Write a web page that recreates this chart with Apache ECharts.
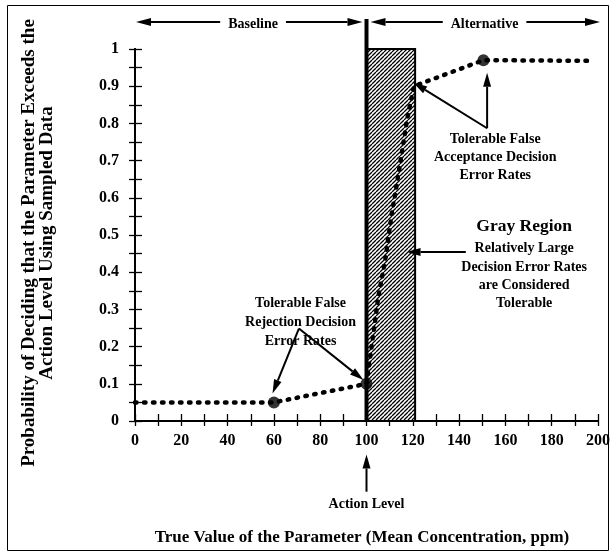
<!DOCTYPE html>
<html><head><meta charset="utf-8">
<script src="https://cdn.jsdelivr.net/npm/echarts@6/dist/echarts.min.js"></script>
<style>html,body{margin:0;padding:0;background:#fff}#c{width:613px;height:554px}</style>
</head><body><div id="c"></div>
<script>
// ---- data ----
const curveX = [0, 60, 100, 102, 105, 108, 111, 114.5, 117.5, 120.5, 150.5, 198];
const curveY = [0.05, 0.05, 0.1, 0.19, 0.33, 0.43, 0.56, 0.69, 0.81, 0.9, 0.97, 0.968];
const keyX = [60, 100, 150.5];
const keyY = [0.05, 0.1, 0.97];
const grayRegion = [100, 121];
const actionLevel = 100;
const zoneNames = ['Baseline', 'Alternative'];
const zoneStart = [0, 100];
const zoneEnd = [100, 200];
const zoneLabelX = [51, 151];
const arrowFromX = [70.8, 70.8, 152.1, 152.1, 142.9, 100];
const arrowFromY = [0.2485, 0.2485, 0.787, 0.787, 0.454, -0.19];
const arrowToX = [59.4, 98.7, 152.1, 120.2, 117.3, 100];
const arrowToY = [0.074, 0.110, 0.936, 0.91, 0.454, -0.09];
const noteText = ['Tolerable False\nRejection Decision\nError Rates',
  'Tolerable False\nAcceptance Decision\nError Rates',
  'Gray Region',
  'Relatively Large\nDecision Error Rates\nare Considered\nTolerable',
  'Action Level'];
const noteX = [71.5, 155.6, 168.1, 168.1, 100];
const noteY = [0.266, 0.7086, 0.524, 0.389, -0.225];
const xTitle = 'True Value of the Parameter (Mean Concentration, ppm)';
const yTitle = 'Probability of Deciding that the Parameter Exceeds the\nAction Level Using Sampled Data';

// ---- styles ----
const FAM = '"Liberation Serif", "Times New Roman", serif';
const noteFont = [14, 14, 17.5, 14, 14];
const noteLH = [19, 18, 20, 18.3, 16];

function hatch() {
  const s = 4, c = document.createElement('canvas');
  c.width = s; c.height = s;
  const g = c.getContext('2d');
  g.fillStyle = '#fff'; g.fillRect(0, 0, s, s);
  g.strokeStyle = '#000'; g.lineWidth = 1.3;
  g.beginPath();
  for (const o of [-s, 0, s]) { g.moveTo(o, s); g.lineTo(o + s, 0); }
  g.stroke();
  return c;
}
const measureCtx = document.createElement('canvas').getContext('2d');
function textWidth(t, font) { measureCtx.font = font; return measureCtx.measureText(t).width; }

function arrowHead(tx, ty, fx, fy, len, half) {
  const dx = tx - fx, dy = ty - fy, d = Math.hypot(dx, dy) || 1;
  const ux = dx / d, uy = dy / d;
  const bx = tx - ux * len, by = ty - uy * len;
  return { base: [bx, by], points: [[tx, ty], [bx - uy * half, by + ux * half], [bx + uy * half, by - ux * half]] };
}

const chart = echarts.init(document.getElementById('c'), null, { renderer: 'canvas' });
const axisLineStyle = { color: '#000', width: 2 };
const tickStyle = { color: '#000', width: 1.3 };
const labelStyle = { color: '#000', fontFamily: FAM, fontWeight: 'bold', fontSize: 16 };

const option = {
  animation: false,
  backgroundColor: '#fff',
  grid: { left: 135, right: 12, top: 49, bottom: 133 },
  xAxis: [
    { type: 'value', min: 0, max: 200, interval: 20, position: 'bottom',
      axisLine: { lineStyle: axisLineStyle }, axisTick: { length: 5, lineStyle: tickStyle },
      minorTick: { show: true, splitNumber: 2, length: 5, lineStyle: tickStyle },
      axisLabel: Object.assign({ margin: 12 }, labelStyle), splitLine: { show: false } },
    { type: 'value', min: 0, max: 200, interval: 20, position: 'top',
      axisLine: { lineStyle: axisLineStyle }, axisTick: { length: 7, lineStyle: tickStyle },
      minorTick: { show: true, splitNumber: 2, length: 7, lineStyle: tickStyle },
      axisLabel: { show: false }, splitLine: { show: false } }
  ],
  yAxis: [
    { type: 'value', min: 0, max: 1, interval: 0.1, position: 'left',
      axisLine: { lineStyle: axisLineStyle }, axisTick: { length: 6, lineStyle: tickStyle },
      minorTick: { show: true, splitNumber: 2, length: 6, lineStyle: tickStyle },
      axisLabel: Object.assign({ margin: 16 }, labelStyle), splitLine: { show: false } },
    { type: 'value', min: 0, max: 1, interval: 0.1, position: 'right',
      axisLine: { lineStyle: axisLineStyle }, axisTick: { length: 7, lineStyle: tickStyle },
      minorTick: { show: true, splitNumber: 2, length: 7, lineStyle: tickStyle },
      axisLabel: { show: false }, splitLine: { show: false } }
  ],
  graphic: [
    { type: 'rect', shape: { x: 7.5, y: 5.5, width: 601, height: 545 }, style: { fill: null, stroke: '#000', lineWidth: 1 }, silent: true },
    { type: 'text', x: 38, y: 243, rotation: Math.PI / 2,
      style: { text: yTitle, font: 'bold 19px ' + FAM, fill: '#000', align: 'center', verticalAlign: 'middle', lineHeight: 18 } },
    { type: 'text', x: 362, y: 538,
      style: { text: xTitle, font: 'bold 17px ' + FAM, fill: '#000', align: 'center', verticalAlign: 'middle' } }
  ],
  series: [
    { // gray (hatched) region
      type: 'custom', name: 'gray', z: 1, clip: false,
      data: [[grayRegion[0], grayRegion[1]]],
      renderItem: function (params, api) {
        const p0 = api.coord([api.value(0), 1]);
        const p1 = api.coord([api.value(1), 0]);
        return { type: 'rect', shape: { x: p0[0], y: p0[1], width: p1[0] - p0[0], height: p1[1] - p0[1] },
          style: { fill: { image: hatch(), repeat: 'repeat' }, stroke: '#000', lineWidth: 2 } };
      }
    },
    { // action level thick line
      type: 'custom', name: 'action', z: 3, clip: false,
      data: [[actionLevel]],
      renderItem: function (params, api) {
        const b = api.coord([api.value(0), 0]);
        const t = api.coord([api.value(0), 1]);
        return { type: 'line', shape: { x1: b[0], y1: b[1], x2: t[0], y2: t[1] - 30 },
          style: { stroke: '#000', lineWidth: 4 } };
      }
    },
    { // curve
      type: 'line', z: 4, symbol: 'none', smooth: false,
      data: curveX.map((x, i) => [x, curveY[i]]),
      lineStyle: { color: '#000', width: 4.5, type: [1.5, 7.5], cap: 'round' }
    },
    { // key points
      type: 'scatter', z: 5, symbol: 'circle', symbolSize: 12,
      data: keyX.map((x, i) => [x, keyY[i]]),
      itemStyle: { color: '#000' }
    },
    { // annotation arrows
      type: 'custom', z: 6, clip: false,
      data: arrowFromX.map((x, i) => [x, arrowFromY[i], arrowToX[i], arrowToY[i]]),
      renderItem: function (params, api) {
        const f = api.coord([api.value(0), api.value(1)]);
        const t = api.coord([api.value(2), api.value(3)]);
        const h = arrowHead(t[0], t[1], f[0], f[1], 14, 4);
        return { type: 'group', children: [
          { type: 'line', shape: { x1: f[0], y1: f[1], x2: h.base[0], y2: h.base[1] }, style: { stroke: '#000', lineWidth: 2 } },
          { type: 'polygon', shape: { points: h.points }, style: { fill: '#000' } }
        ] };
      }
    },
    { // annotation texts
      type: 'custom', z: 7, clip: false,
      data: noteX.map((x, i) => [x, noteY[i], i]),
      renderItem: function (params, api) {
        const p = api.coord([api.value(0), api.value(1)]);
        const i = api.value(2);
        return { type: 'text', x: p[0], y: p[1],
          style: { text: noteText[i], font: 'bold ' + noteFont[i] + 'px ' + FAM, fill: '#000',
            align: 'center', verticalAlign: 'middle', lineHeight: noteLH[i] } };
      }
    },
    { // baseline / alternative zone arrows
      type: 'custom', z: 7, clip: false,
      data: zoneStart.map((s, i) => [s, zoneEnd[i], zoneLabelX[i], i]),
      renderItem: function (params, api) {
        const i = api.value(3);
        const font = 'bold 14px ' + FAM;
        const a = api.coord([api.value(0), 1]);
        const b = api.coord([api.value(1), 1]);
        const c = api.coord([api.value(2), 1]);
        const y = a[1] - 27;
        const x0 = a[0] + (i === 0 ? 1 : 4), x1 = b[0] - (i === 0 ? 4 : -2);
        const w = textWidth(zoneNames[i], font);
        const tl = c[0] - w / 2 - 8, tr = c[0] + w / 2 + 8;
        const hl = arrowHead(x0, y, x0 + 50, y, 15, 4);
        const hr = arrowHead(x1, y, x1 - 50, y, 15, 4);
        return { type: 'group', children: [
          { type: 'line', shape: { x1: hl.base[0], y1: y, x2: tl, y2: y }, style: { stroke: '#000', lineWidth: 2 } },
          { type: 'line', shape: { x1: tr, y1: y, x2: hr.base[0], y2: y }, style: { stroke: '#000', lineWidth: 2 } },
          { type: 'polygon', shape: { points: hl.points }, style: { fill: '#000' } },
          { type: 'polygon', shape: { points: hr.points }, style: { fill: '#000' } },
          { type: 'text', x: c[0], y: y + 2, style: { text: zoneNames[i], font: font, fill: '#000', align: 'center', verticalAlign: 'middle' } }
        ] };
      }
    }
  ]
};
chart.setOption(option);
</script>
</body></html>
